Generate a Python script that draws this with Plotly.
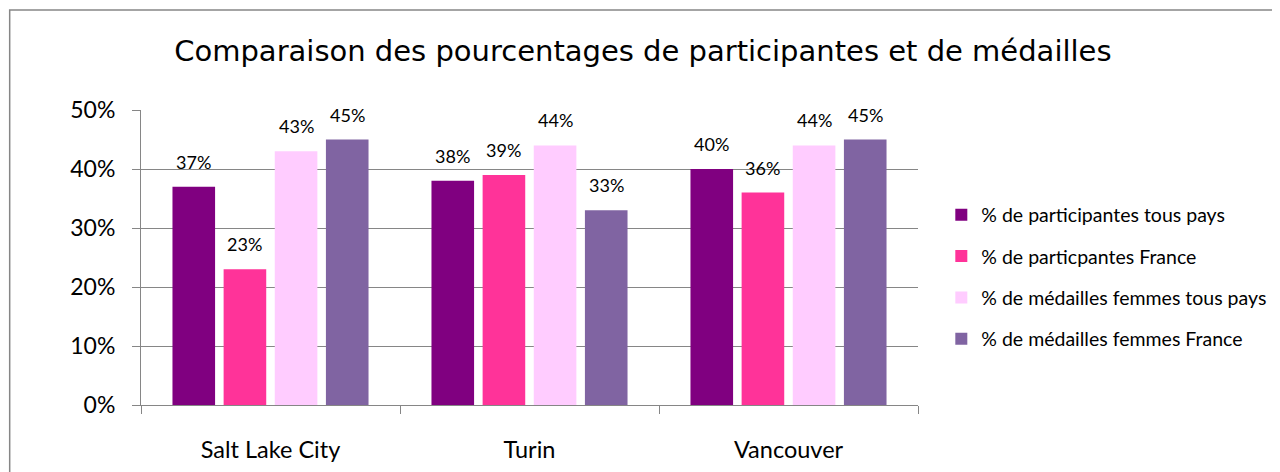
import plotly.graph_objects as go

# Jeux olympiques d'hiver
villes = ["Salt Lake City", "Turin", "Vancouver"]

participantes_tous_pays = [0.37, 0.38, 0.40]
participantes_france = [0.23, 0.39, 0.36]
medailles_tous_pays = [0.43, 0.44, 0.44]
medailles_france = [0.45, 0.33, 0.45]

noms_series = [
    "% de participantes tous pays",
    "% de particpantes France",
    "% de médailles femmes tous pays",
    "% de médailles femmes France",
]
couleurs = ["#800080", "#FF3399", "#FFCCFF", "#8064A2"]

series = [participantes_tous_pays, participantes_france, medailles_tous_pays, medailles_france]

BARGAP = 0.21
GRIS = "#868686"
police = "Lato, Open Sans, sans-serif"

fig = go.Figure()
for i, (nom, vals, coul) in enumerate(zip(noms_series, series, couleurs)):
    fig.add_trace(go.Bar(x=villes, y=vals, name=nom, marker_color=coul,
                         marker_line_width=0, legendgroup=str(i)))

# etiquettes de donnees au-dessus des barres
largeur = (1 - BARGAP) / len(series)
for j, vals in enumerate(series):
    for i, v in enumerate(vals):
        fig.add_annotation(x=i + (j - (len(series) - 1) / 2) * largeur, y=v,
                           text=f"{round(v * 100)}%", showarrow=False,
                           yanchor="bottom", yshift=12,
                           font=dict(family=police, size=18, color="black"))

fig.update_layout(
    width=1280, height=472,
    margin=dict(l=133, r=370, t=102, b=75),
    plot_bgcolor="white", paper_bgcolor="white",
    barmode="group", bargap=BARGAP, bargroupgap=0.167,
    title=dict(text="Comparaison des pourcentages de participantes et de médailles",
               x=0.496, xanchor="center", y=0.91, yanchor="middle",
               font=dict(family="Comic Sans MS, DejaVu Sans, sans-serif", size=29, color="black")),
    legend=dict(x=1.03, xanchor="left", y=0.71, yanchor="top",
                traceorder="grouped", tracegroupgap=13,
                font=dict(family=police, size=19.5, color="black")),
    font=dict(family=police, color="black"),
)

fig.update_xaxes(showline=True, linecolor=GRIS, linewidth=1,
                 ticks="outside", tickson="boundaries", ticklen=8, tickcolor=GRIS,
                 ticklabelstandoff=24, tickfont=dict(size=23.5))
fig.update_yaxes(range=[0, 0.5], dtick=0.1, tickformat=".0%",
                 showline=True, linecolor=GRIS, linewidth=1,
                 showgrid=True, gridcolor=GRIS, gridwidth=1,
                 ticks="outside", ticklen=8, tickcolor=GRIS,
                 ticklabelstandoff=12, tickfont=dict(size=23), zeroline=False)

# cadre du graphique
fig.add_shape(type="rect", xref="paper", yref="paper",
              x0=-0.169, x1=1.48, y0=-0.26, y1=1.339,
              line=dict(color=GRIS, width=1.5), fillcolor="rgba(0,0,0,0)", layer="below")

fig.write_html("out.html")
